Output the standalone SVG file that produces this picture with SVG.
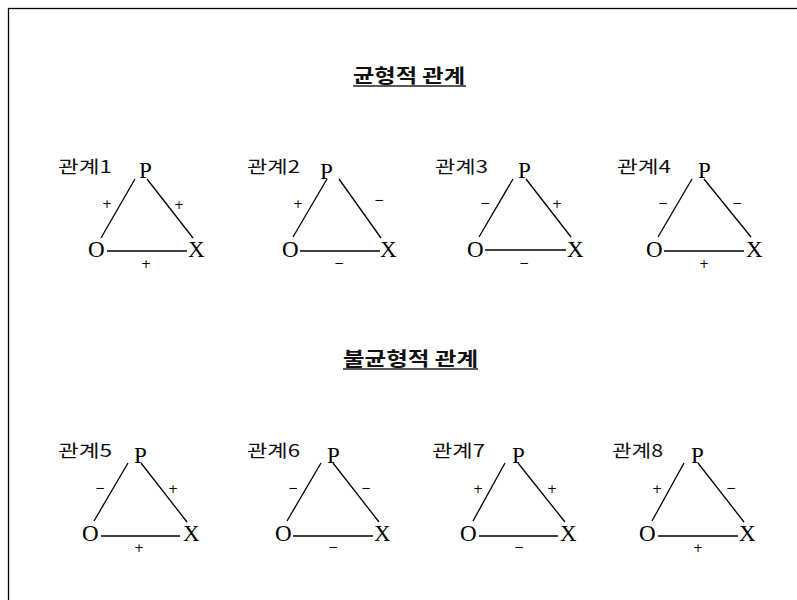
<svg xmlns="http://www.w3.org/2000/svg" width="797" height="600" viewBox="0 0 797 600">
<style>
.ln{stroke:#000;stroke-width:1.3;fill:none}
.v{font-family:"Liberation Serif","DejaVu Serif",serif;font-size:23px;fill:#000}
.s{font-family:"DejaVu Sans","Liberation Sans",sans-serif;font-size:12px;fill:#000;text-anchor:middle}
.k{font-family:"Noto Sans CJK KR",sans-serif;font-size:17px;fill:#111;font-weight:400}
.t{font-family:"Noto Sans CJK KR",sans-serif;font-size:19px;fill:#111;font-weight:700}
.u{stroke:#222;stroke-width:1.6}
</style>
<rect x="0" y="0" width="797" height="600" fill="#fff"/>
<rect x="8.5" y="8.5" width="800" height="600" fill="none" stroke="#000" stroke-width="1.3"/>
<g id="title1"><text class="t" x="353" y="83" textLength="112" lengthAdjust="spacingAndGlyphs">균형적 관계</text><line class="u" x1="353" y1="86" x2="466" y2="86"/></g>
<g id="title2"><text class="t" x="343" y="366" textLength="135" lengthAdjust="spacingAndGlyphs">불균형적 관계</text><line class="u" x1="343" y1="369" x2="478" y2="369"/></g>
<g id="connectors">
<line class="ln" x1="135" y1="179" x2="101" y2="238"/><line class="ln" x1="147" y1="179" x2="193" y2="238"/><line class="ln" x1="107" y1="251" x2="187" y2="251"/>
<line class="ln" x1="327" y1="179" x2="293" y2="237"/><line class="ln" x1="339" y1="179" x2="381" y2="238"/><line class="ln" x1="300" y1="251" x2="380" y2="251"/>
<line class="ln" x1="513" y1="179" x2="479" y2="237"/><line class="ln" x1="526" y1="179" x2="571" y2="237"/><line class="ln" x1="485" y1="250" x2="566" y2="250"/>
<line class="ln" x1="692" y1="179" x2="658" y2="237"/><line class="ln" x1="704" y1="179" x2="751" y2="237"/><line class="ln" x1="664" y1="251" x2="744" y2="251"/>
<line class="ln" x1="128" y1="463" x2="94" y2="521"/><line class="ln" x1="141" y1="463" x2="187" y2="522"/><line class="ln" x1="101" y1="536" x2="180" y2="536"/>
<line class="ln" x1="321" y1="463" x2="287" y2="521"/><line class="ln" x1="333" y1="463" x2="379" y2="522"/><line class="ln" x1="293" y1="536" x2="373" y2="536"/>
<line class="ln" x1="505" y1="463" x2="473" y2="521"/><line class="ln" x1="518" y1="463" x2="565" y2="522"/><line class="ln" x1="479" y1="536" x2="558" y2="536"/>
<line class="ln" x1="684" y1="463" x2="652" y2="521"/><line class="ln" x1="698" y1="463" x2="744" y2="522"/><line class="ln" x1="658" y1="536" x2="738" y2="536"/>
</g>
<g id="r1"><text class="k" x="58" y="173" textLength="54" lengthAdjust="spacingAndGlyphs">관계1</text>
<text class="v" x="139" y="178">P</text><text class="v" x="88" y="257">O</text><text class="v" x="188" y="257">X</text>
<text class="s" x="107" y="208">+</text><text class="s" x="179" y="209">+</text><text class="s" x="146" y="268">+</text></g>
<g id="r2"><text class="k" x="247" y="173" textLength="53" lengthAdjust="spacingAndGlyphs">관계2</text>
<text class="v" x="320" y="179">P</text><text class="v" x="282" y="257">O</text><text class="v" x="380" y="257">X</text>
<text class="s" x="298" y="208">+</text><text class="s" x="379" y="204">−</text><text class="s" x="339" y="267">−</text></g>
<g id="r3"><text class="k" x="435" y="173" textLength="53" lengthAdjust="spacingAndGlyphs">관계3</text>
<text class="v" x="518" y="178">P</text><text class="v" x="467" y="257">O</text><text class="v" x="567" y="257">X</text>
<text class="s" x="485" y="207">−</text><text class="s" x="557" y="208">+</text><text class="s" x="524" y="267">−</text></g>
<g id="r4"><text class="k" x="617" y="173" textLength="54" lengthAdjust="spacingAndGlyphs">관계4</text>
<text class="v" x="698" y="178">P</text><text class="v" x="646" y="257">O</text><text class="v" x="746" y="257">X</text>
<text class="s" x="663" y="207">−</text><text class="s" x="737" y="207">−</text><text class="s" x="704" y="268">+</text></g>
<g id="r5"><text class="k" x="58" y="457" textLength="54" lengthAdjust="spacingAndGlyphs">관계5</text>
<text class="v" x="134" y="463">P</text><text class="v" x="82" y="541">O</text><text class="v" x="183" y="541">X</text>
<text class="s" x="100" y="492">−</text><text class="s" x="173" y="493">+</text><text class="s" x="139" y="552">+</text></g>
<g id="r6"><text class="k" x="247" y="457" textLength="53" lengthAdjust="spacingAndGlyphs">관계6</text>
<text class="v" x="327" y="463">P</text><text class="v" x="275" y="541">O</text><text class="v" x="374" y="541">X</text>
<text class="s" x="293" y="492">−</text><text class="s" x="366" y="492">−</text><text class="s" x="333" y="551">−</text></g>
<g id="r7"><text class="k" x="432" y="457" textLength="53" lengthAdjust="spacingAndGlyphs">관계7</text>
<text class="v" x="512" y="463">P</text><text class="v" x="460" y="541">O</text><text class="v" x="560" y="541">X</text>
<text class="s" x="478" y="493">+</text><text class="s" x="552" y="493">+</text><text class="s" x="519" y="551">−</text></g>
<g id="r8"><text class="k" x="612" y="457" textLength="51" lengthAdjust="spacingAndGlyphs">관계8</text>
<text class="v" x="691" y="463">P</text><text class="v" x="639" y="541">O</text><text class="v" x="739" y="541">X</text>
<text class="s" x="657" y="493">+</text><text class="s" x="731" y="492">−</text><text class="s" x="698" y="552">+</text></g>
</svg>
